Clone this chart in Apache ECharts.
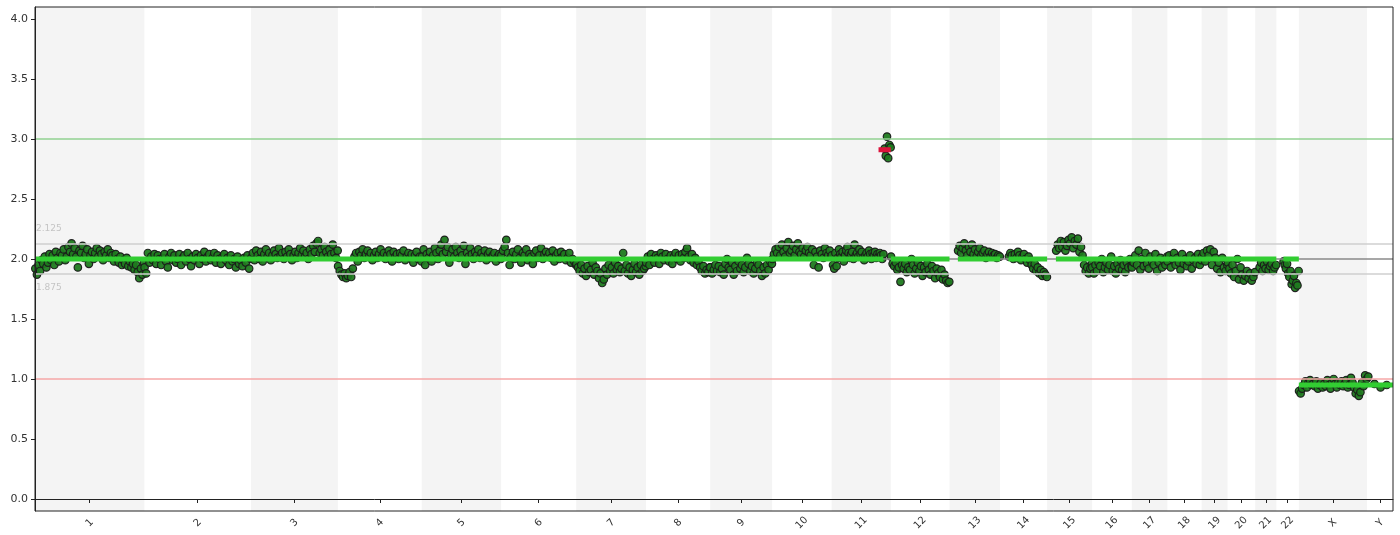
<!DOCTYPE html>
<html>
<head>
<meta charset="utf-8">
<title>Copy number profile</title>
<script src="https://cdn.jsdelivr.net/npm/echarts@6/dist/echarts.min.js"></script>
<style>
  html, body { margin: 0; padding: 0; background: #ffffff; }
  #chart { width: 1400px; height: 535px; }
</style>
</head>
<body>
<div id="chart"></div>
<script>
// Chromosome names and hg19 lengths (Mb)
const chromNames = ['1','2','3','4','5','6','7','8','9','10','11','12','13','14','15','16','17','18','19','20','21','22','X','Y'];
const chromLengthsMb = [249.25,243.20,198.02,191.15,180.92,171.12,159.14,146.36,141.21,135.53,135.01,133.85,115.17,107.35,102.53,90.35,81.20,78.08,59.13,63.03,48.13,51.30,155.27,59.37];

// First and last bin centre of each chromosome (Mb)
const binStartMb = [0.8,0.5,0.5,0.5,0.5,0.5,0.5,0.5,0.5,0.5,0.5,0.5,19.5,20.0,20.5,0.5,0.5,0.5,0.5,0.5,10.0,16.5,0.5,3.0];
const binEndMb   = [248.5,242.7,197.5,190.6,180.4,170.6,158.6,145.8,140.7,135.0,134.5,133.3,114.6,106.8,102.0,89.8,80.7,77.5,58.6,62.5,47.6,50.8,154.7,45.0];

// Copy-number estimate per bin, per chromosome
const cnChr1  = [1.92,1.87,1.95,1.90,1.99,1.96,2.02,1.93,1.97,2.04,1.99,2.03,1.95,2.06,2.01,1.98,2.05,2.03,2.08,1.99,2.02,2.10,2.06,2.13,2.04,2.09,2.02,1.93,2.07,2.05,2.11,2.01,2.04,2.08,1.96,2.03,2.06,2.00,2.05,2.09,2.02,2.07,2.04,1.99,2.06,2.03,2.08,2.01,2.05,2.03,1.98,2.04,2.00,1.97,2.02,1.95,1.99,1.96,2.01,1.94,1.98,1.93,1.96,1.91,1.95,1.89,1.84,1.92,1.87,1.97];
const cnChr2  = [1.93,1.88,2.05,1.97,2.02,1.99,2.04,1.96,2.03,2.00,1.95,2.01,2.04,1.98,1.93,2.02,2.05,1.99,2.03,1.97,2.00,2.04,1.95,2.01,2.03,1.98,2.05,2.00,1.94,2.02,1.99,2.04,2.01,1.96,2.03,2.00,2.06,1.98,2.02,2.04,1.99,2.01,2.05,1.97,2.03,2.00,1.96,2.02,2.04,1.99,2.01,1.95,2.03,1.98,2.00,1.93,2.02,1.96,1.99,1.94,2.01,1.97,2.03,1.92,2.00];
const cnChr3  = [2.01,2.05,1.99,2.07,2.03,2.00,2.06,1.98,2.04,2.08,2.02,2.05,1.99,2.03,2.07,2.04,2.01,2.09,2.03,2.05,2.00,2.06,2.02,2.08,2.04,1.99,2.03,2.06,2.01,2.05,2.09,2.03,2.07,2.02,2.05,2.00,2.08,2.04,2.11,2.06,2.13,2.15,2.05,2.08,2.03,2.10,2.06,2.02,2.08,2.04,2.12,2.05,2.01,2.07];
const cnChr4  = [1.94,1.90,1.87,1.85,1.88,1.84,1.86,1.89,1.85,1.92,2.02,2.05,1.98,2.06,2.03,2.08,2.01,2.04,2.07,2.02,2.05,1.99,2.03,2.06,2.01,2.04,2.08,2.02,2.05,2.00,2.03,2.07,2.04,1.98,2.06,2.02,2.04,2.00,2.05,2.03,2.07,1.99,2.02,2.05,2.01,2.04,1.97,2.03,2.06,2.00,2.02,1.98];
const cnChr5  = [2.02,2.08,1.95,2.04,2.01,2.06,1.98,2.03,2.09,2.05,2.00,2.07,2.12,2.04,2.16,2.06,2.10,1.97,2.04,2.08,2.02,2.10,2.05,2.01,2.07,2.03,2.11,1.96,2.05,2.02,2.09,2.04,2.00,2.06,2.03,2.08,2.01,2.05,2.02,2.07,1.99,2.04,2.06,2.01,2.03,2.05,1.98,2.02,2.04,2.00];
const cnChr6  = [2.03,2.07,2.10,2.16,2.05,1.95,2.02,2.06,2.00,2.04,2.08,2.01,1.97,2.05,2.03,2.08,1.99,2.04,2.02,1.96,2.05,2.07,2.01,2.03,2.09,2.00,2.04,2.06,2.02,2.05,2.01,2.07,1.98,2.03,2.05,2.00,2.06,2.02,2.04,1.99,2.01,2.05,1.97,2.00,1.98,1.95];
const cnChr7  = [1.96,1.93,1.90,1.95,1.88,1.92,1.86,1.94,1.89,1.91,1.97,1.87,1.93,1.90,1.84,1.88,1.80,1.83,1.92,1.87,1.95,1.90,1.93,1.88,1.97,1.91,1.94,1.89,1.92,2.05,1.90,1.95,1.88,1.93,1.86,1.91,1.96,1.89,1.93,1.87,1.95,1.90,1.92,1.94];
const cnChr8  = [1.97,2.02,1.95,2.04,2.00,1.97,2.03,2.01,1.96,2.05,2.02,1.99,2.04,2.00,1.98,2.03,1.96,2.02,2.05,2.00,2.03,1.98,2.04,2.01,2.06,2.09,2.02,1.99,2.04,1.97,2.01,1.95,1.98,1.93,1.90,1.94,1.88,1.91,1.89,1.93];
const cnChr9  = [1.93,1.88,1.91,1.95,1.90,1.94,1.89,1.92,1.87,1.96,2.00,1.93,1.91,1.97,1.87,1.94,1.90,1.98,1.92,1.95,1.89,1.93,2.01,1.96,1.90,1.94,1.88,1.92,1.97,1.95,1.90,1.86,1.93,1.88,1.95,1.91,1.98,1.96];
const cnChr10 = [2.00,2.04,2.08,2.05,2.10,2.03,2.12,2.06,2.02,2.09,2.14,2.05,2.07,2.11,2.03,2.08,2.13,2.06,2.04,2.09,2.02,2.07,2.10,2.05,2.03,2.08,1.95,2.06,2.02,1.93,2.07,2.04,2.01,2.09,2.05,2.03,2.07,2.02];
const cnChr11 = [2.03,1.95,1.92,2.05,1.94,2.01,2.08,2.04,2.02,2.06,1.98,2.03,2.07,2.10,2.05,2.01,2.04,2.06,2.00,2.12,2.03,2.05,2.02,2.08,2.04,2.06,2.01,1.99,2.03,2.05,2.02,2.07,2.04,2.00,2.05,2.03,2.06,2.01,2.04,2.02,2.05,2.03,2.00,2.04,
                 2.92,2.86,3.02,2.84,2.95,2.93];
const cnChr12 = [2.02,1.96,1.94,1.97,1.91,1.93,1.81,1.95,1.92,1.96,1.89,1.93,1.91,2.00,1.95,1.88,1.92,1.97,1.90,1.94,1.86,1.93,1.89,1.96,1.91,1.87,1.94,1.90,1.84,1.92,1.88,1.85,1.91,1.83,1.87,1.82,1.80,1.81];
const cnChr13 = [2.07,2.11,2.05,2.09,2.13,2.07,2.03,2.10,2.06,2.12,2.04,2.08,2.02,2.06,2.09,2.03,2.05,2.07,2.01,2.04,2.06,2.02,2.05,2.03,2.04,2.01,2.03,2.02];
const cnChr14 = [2.02,2.05,2.03,2.00,2.04,2.01,2.06,2.03,1.99,2.02,2.04,2.00,1.97,2.02,1.99,1.95,1.92,1.96,1.90,1.93,1.88,1.91,1.86,1.89,1.87,1.85];
const cnChr15 = [2.07,2.12,2.09,2.15,2.10,2.14,2.07,2.11,2.16,2.13,2.18,2.09,2.15,2.12,2.17,2.06,2.10,2.03,1.95,1.90,1.93,1.88,1.92,1.96];
const cnChr16 = [1.93,1.88,1.95,1.90,1.97,1.94,2.00,1.89,1.93,1.97,1.91,1.95,2.02,1.90,1.94,1.88,1.96,1.92,1.99,1.91,1.95,1.89,1.97,1.93,2.00,1.94];
const cnChr17 = [1.93,1.97,2.03,1.95,2.07,1.91,2.00,1.94,2.05,1.96,1.92,2.02,1.98,1.95,2.04,1.90,1.97,2.01,1.93,1.99,1.95,2.02];
const cnChr18 = [1.98,2.03,1.93,2.00,2.05,1.95,2.01,1.97,1.91,2.04,1.96,2.00,1.94,1.98,2.03,1.92,1.99,2.01,1.96,2.04,1.95,1.99];
const cnChr19 = [2.02,2.05,1.98,2.07,2.03,2.08,1.95,2.06,2.01,1.92,1.97,1.89,2.01,1.93,1.90,1.95];
const cnChr20 = [1.97,1.92,1.88,1.95,1.85,1.90,2.00,1.83,1.93,1.87,1.82,1.86,1.90,1.84,1.88,1.82,1.85,1.89];
const cnChr21 = [1.93,1.97,1.90,1.95,1.92,1.98,1.91,1.94,1.96,1.90,1.93,1.95];
const cnChr22 = [1.98,1.95,1.92,1.96,1.88,1.85,1.90,1.79,1.82,1.86,1.76,1.80,1.78,1.90];
const cnChrX  = [0.90,0.88,0.92,0.95,0.98,0.93,0.97,0.99,0.95,0.96,0.94,0.98,0.92,0.95,0.97,0.93,0.96,0.94,0.99,0.95,0.92,0.97,1.00,0.96,0.93,0.97,0.95,0.98,0.94,0.96,0.99,0.93,0.95,1.01,0.97,0.93,0.88,0.91,0.86,0.89,0.97,0.94,1.03,1.00];
const cnChrY  = [1.02,0.96,0.93,0.95];

const binsByChrom = [cnChr1,cnChr2,cnChr3,cnChr4,cnChr5,cnChr6,cnChr7,cnChr8,cnChr9,cnChr10,cnChr11,cnChr12,
                     cnChr13,cnChr14,cnChr15,cnChr16,cnChr17,cnChr18,cnChr19,cnChr20,cnChr21,cnChr22,cnChrX,cnChrY];

// Segmentation calls
const segChromFrom  = ['1','11','12','13','14','15','22','X'];
const segPosFromMb  = [0.0, 107.0, 0.1, 19.0, 19.0, 20.0, 16.0, 0.0];
const segChromTo    = ['11','11','12','13','14','21','22','Y'];
const segPosToMb    = [118.0, 135.0, 133.8, 115.1, 107.3, 48.1, 51.3, 59.37];
const segCopyNumber = [2.0, 2.91, 2.0, 2.0, 2.0, 2.0, 2.0, 0.95];
const segCall       = ['neutral','gain','neutral','neutral','neutral','neutral','neutral','neutral'];

// Horizontal reference levels
const refLevels = [3.0, 2.125, 2.0, 1.875, 1.0];
const yTickValues = [0, 0.5, 1.0, 1.5, 2.0, 2.5, 3.0, 3.5, 4.0];

// ---- derived genome coordinates ----
const chromOffset = [];
let acc = 0;
chromLengthsMb.forEach(len => { chromOffset.push(acc); acc += len; });
const genomeLength = acc;
const offsetOf = name => chromOffset[chromNames.indexOf(name)];
const chromCentres = chromNames.map((n, i) => chromOffset[i] + chromLengthsMb[i] / 2);

const points = [];
binsByChrom.forEach((vals, i) => {
  const s = binStartMb[i], e = binEndMb[i], n = vals.length;
  vals.forEach((v, j) => {
    const pos = n > 1 ? s + (e - s) * j / (n - 1) : (s + e) / 2;
    points.push([chromOffset[i] + pos, v]);
  });
});

// alternating shaded chromosome bands (odd chromosomes and X)
const bandAreas = [];
chromNames.forEach((n, i) => {
  if (i % 2 === 0 && i < 23) {
    bandAreas.push([{ xAxis: chromOffset[i] }, { xAxis: chromOffset[i] + chromLengthsMb[i] }]);
  }
});

const refStyles = {
  '3': { color: '#92d292', label: false },
  '2.125': { color: '#cfcfcf', label: 'top' },
  '2': { color: '#8a8a8a', label: false },
  '1.875': { color: '#cfcfcf', label: 'bottom' },
  '1': { color: '#f6a7a7', label: false }
};
const refLines = refLevels.map(v => {
  const st = refStyles[String(v)];
  return {
    yAxis: v,
    lineStyle: { color: st.color, width: 1.5, type: 'solid' },
    label: st.label ? {
      show: true,
      position: st.label === 'top' ? 'insideStartTop' : 'insideStartBottom',
      distance: [1, 10],
      formatter: String(v),
      color: '#c4c4c4',
      fontSize: 9,
      fontFamily: 'DejaVu Sans'
    } : { show: false }
  };
});

const segmentSeries = segCopyNumber.map((v, k) => ({
  type: 'line',
  name: 'segment ' + (k + 1),
  data: [
    [offsetOf(segChromFrom[k]) + segPosFromMb[k], v],
    [offsetOf(segChromTo[k]) + segPosToMb[k], v]
  ],
  showSymbol: false,
  symbol: 'none',
  lineStyle: { color: segCall[k] === 'gain' ? '#dc143c' : '#32cd32', width: 5, cap: 'butt' },
  z: 5,
  silent: true,
  animation: false
}));

const chart = echarts.init(document.getElementById('chart'), null, { renderer: 'canvas' });
chart.setOption({
  animation: false,
  backgroundColor: '#ffffff',
  grid: {
    left: 35, right: 7, top: 7, bottom: 24, z: 10,
    show: true, borderColor: '#222', borderWidth: 1, backgroundColor: 'transparent'
  },
  xAxis: {
    type: 'value',
    min: 0,
    max: genomeLength,
    z: 10,
    splitLine: { show: false },
    axisLine: { show: true, lineStyle: { color: '#222', width: 1 } },
    axisTick: { show: true, length: 4, inside: false, customValues: chromCentres, lineStyle: { color: '#222' } },
    axisLabel: {
      customValues: chromCentres,
      rotate: 45,
      margin: 12,
      align: 'center',
      verticalAlign: 'middle',
      color: '#333',
      fontSize: 10,
      fontFamily: 'DejaVu Sans',
      formatter: val => {
        let best = 0, d = Infinity;
        chromCentres.forEach((c, i) => { if (Math.abs(c - val) < d) { d = Math.abs(c - val); best = i; } });
        return chromNames[best];
      }
    }
  },
  yAxis: {
    type: 'value',
    min: -0.1,
    max: 4.1,
    z: 10,
    splitLine: { show: false },
    axisLine: { show: true, lineStyle: { color: '#222', width: 1 } },
    axisTick: { show: true, length: 4, customValues: yTickValues, lineStyle: { color: '#222' } },
    axisLabel: {
      customValues: yTickValues,
      margin: 7,
      color: '#333',
      fontSize: 11,
      fontFamily: 'DejaVu Sans',
      formatter: v => v.toFixed(1)
    }
  },
  series: [
    {
      type: 'line',
      name: 'bands',
      data: [],
      silent: true,
      z: 0,
      markArea: {
        silent: true,
        itemStyle: { color: '#f4f4f4' },
        data: bandAreas
      },
      markLine: {
        silent: true,
        symbol: 'none',
        animation: false,
        data: refLines
      }
    },
    {
      type: 'scatter',
      name: 'bins',
      data: points,
      symbol: 'circle',
      symbolSize: 7.5,
      itemStyle: { color: '#1f7a1f', opacity: 0.95, borderColor: '#1a1a1a', borderWidth: 1.2 },
      z: 3,
      silent: true
    },
    ...segmentSeries
  ]
});
</script>
</body>
</html>
